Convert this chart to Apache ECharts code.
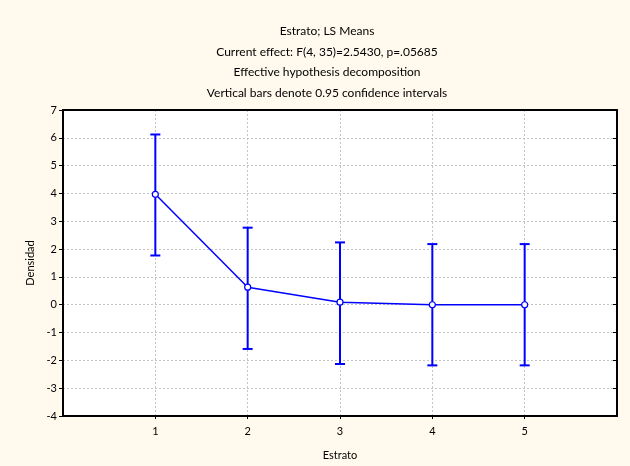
<!DOCTYPE html>
<html>
<head>
<meta charset="utf-8">
<script src="https://cdn.jsdelivr.net/npm/echarts@6/dist/echarts.min.js"></script>
<style>
html,body{margin:0;padding:0;background:#FFF9EE;}
#chart{width:630px;height:466px;}
</style>
</head>
<body>
<div id="chart"></div>
<script>
const categories = [1, 2, 3, 4, 5];
const means = [3.97, 0.63, 0.09, 0.0, 0.0];
const lower = [1.77, -1.59, -2.13, -2.18, -2.18];
const upper = [6.12, 2.77, 2.24, 2.18, 2.18];
const yTicks = [-4, -3, -2, -1, 0, 1, 2, 3, 4, 5, 6, 7];
const titleLines = [
  'Estrato; LS Means',
  'Current effect: F(4, 35)=2.5430, p=.05685',
  'Effective hypothesis decomposition',
  'Vertical bars denote 0.95 confidence intervals'
];

const FONT = 'Lato';
const chart = echarts.init(document.getElementById('chart'), null, {renderer: 'canvas'});

const linePts = categories.map((c, i) => [c, means[i]]);
const errPts = categories.map((c, i) => [c, lower[i], upper[i]]);

chart.setOption({
  backgroundColor: '#FFF9EE',
  animation: false,
  textStyle: {fontFamily: FONT},
  title: titleLines.map((t, i) => ({
    text: t,
    left: 322,
    textAlign: 'center',
    top: 20 + i * 20.7,
    textStyle: {fontFamily: FONT, fontSize: 12, fontWeight: 'normal', color: '#000'}
  })),
  grid: {left: 63, right: 13, top: 110, bottom: 50, show: true, backgroundColor: '#fff', borderWidth: 0},
  xAxis: [{
    type: 'value', min: 0, max: 6, interval: 1,
    name: 'Estrato', nameLocation: 'middle', nameGap: 34,
    nameTextStyle: {fontFamily: FONT, fontSize: 11, color: '#000'},
    axisLine: {show: true, onZero: false, lineStyle: {color: '#000', width: 2}},
    axisTick: {show: true, length: 3, lineStyle: {color: '#000'}, customValues: categories},
    axisLabel: {fontFamily: FONT, fontSize: 11, color: '#000', margin: 10, customValues: categories},
    splitLine: {show: true, lineStyle: {color: '#c4c4c4', type: [2, 2], width: 1}}
  }, {
    type: 'value', position: 'top', min: 0, max: 6, interval: 1,
    axisLine: {show: true, onZero: false, lineStyle: {color: '#000', width: 2}},
    axisTick: {show: false}, axisLabel: {show: false}, splitLine: {show: false}
  }],
  yAxis: [{
    type: 'value', min: -4, max: 7, interval: 1,
    name: 'Densidad', nameLocation: 'middle', nameGap: 27,
    nameTextStyle: {fontFamily: FONT, fontSize: 11, color: '#000'},
    axisLine: {show: true, onZero: false, lineStyle: {color: '#000', width: 2}},
    axisTick: {show: true, length: 4, lineStyle: {color: '#000'}},
    axisLabel: {fontFamily: FONT, fontSize: 11, color: '#000', margin: 6, customValues: yTicks},
    splitLine: {show: true, lineStyle: {color: '#c4c4c4', type: [2, 2], width: 1}}
  }, {
    type: 'value', position: 'right', min: -4, max: 7, interval: 1,
    axisLine: {show: true, onZero: false, lineStyle: {color: '#000', width: 2}},
    axisTick: {show: true, inside: true, length: 4, lineStyle: {color: '#000'}},
    axisLabel: {show: false}, splitLine: {show: false}
  }],
  series: [{
    type: 'custom',
    z: 2,
    data: errPts,
    renderItem: function (params, api) {
      const x = api.value(0);
      const lo = api.coord([x, api.value(1)]);
      const hi = api.coord([x, api.value(2)]);
      const hw = 5;
      const style = {stroke: '#0000FF', lineWidth: 2};
      return {
        type: 'group',
        children: [
          {type: 'line', shape: {x1: lo[0], y1: lo[1], x2: hi[0], y2: hi[1]}, style: style},
          {type: 'line', shape: {x1: lo[0] - hw, y1: lo[1], x2: lo[0] + hw, y2: lo[1]}, style: style},
          {type: 'line', shape: {x1: hi[0] - hw, y1: hi[1], x2: hi[0] + hw, y2: hi[1]}, style: style}
        ]
      };
    }
  }, {
    type: 'line',
    z: 3,
    data: linePts,
    symbol: 'circle',
    symbolSize: 6,
    lineStyle: {color: '#0000FF', width: 1.5},
    itemStyle: {color: '#fff', borderColor: '#0000FF', borderWidth: 1.2}
  }]
});
</script>
</body>
</html>
